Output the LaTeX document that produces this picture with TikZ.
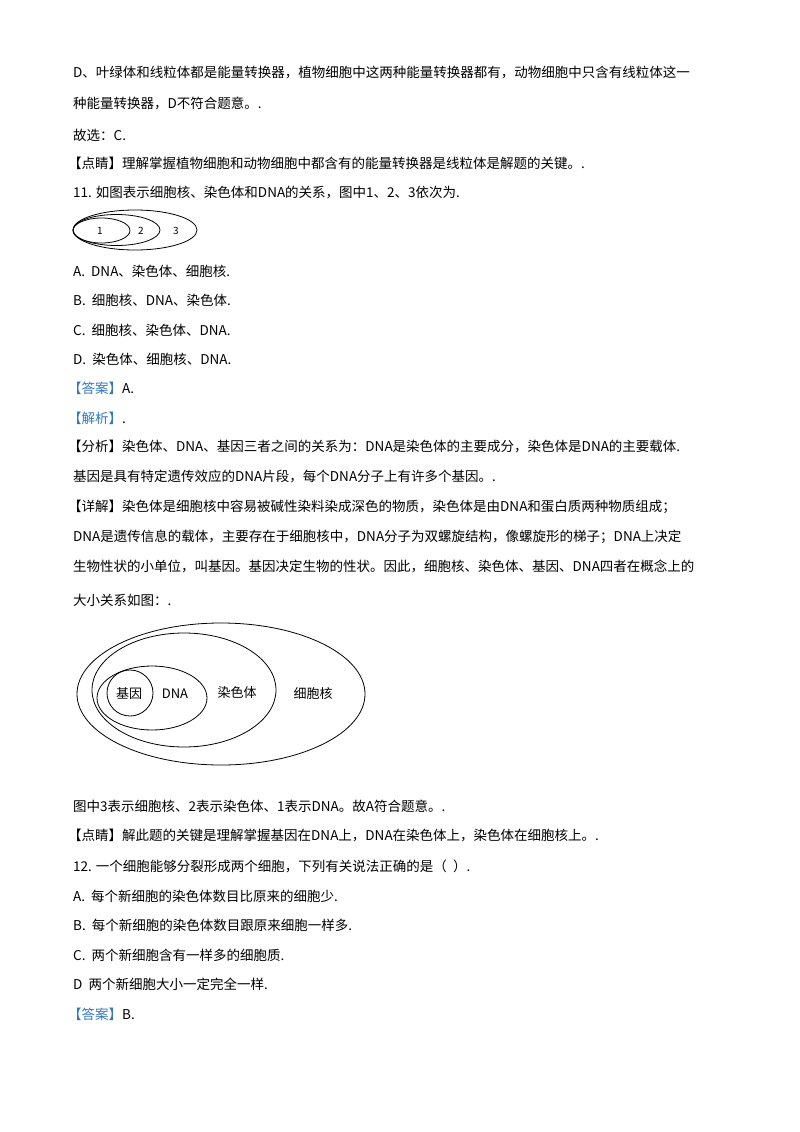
\documentclass[tikz,border=0pt]{standalone}
\usepackage{fontspec}
\setmainfont{Noto Sans CJK SC}
\definecolor{tagblue}{RGB}{50,120,190}
\begin{document}
\begin{tikzpicture}[x=1pt,y=-1pt,
  ln/.style={anchor=west,inner sep=0pt,font=\fontsize{13.5}{14}\selectfont},
  lb/.style={inner sep=0pt,font=\fontsize{13}{14}\selectfont},
  sl/.style={inner sep=0pt,font=\fontsize{10}{11}\selectfont},
  ring/.style={draw,line width=0.8pt}]
\useasboundingbox[fill=white] (0,0) rectangle (800,1132);
\node[ln] (l1) at (73,73) {D、叶绿体和线粒体都是能量转换器，植物细胞中这两种能量转换器都有，动物细胞中只含有线粒体这一};
\node[ln] (l2) at (73,103) {种能量转换器，D不符合题意。.};
\node[ln] (l3) at (73,135) {故选：C.};
\node[ln] (l4) at (68,163) {【点睛】理解掌握植物细胞和动物细胞中都含有的能量转换器是线粒体是解题的关键。.};
\node[ln] (l5) at (73,193) {11. 如图表示细胞核、染色体和DNA的关系，图中1、2、3依次为.};
% small diagram
\draw[ring] (135,230) ellipse [x radius=62,y radius=20];
\draw[ring] (116.5,230) ellipse [x radius=43.5,y radius=15.5];
\draw[ring] (101.5,230.5) ellipse [x radius=28.5,y radius=12.5];
\node[sl] (s1) at (100,231) {1};
\node[sl] (s2) at (141,231) {2};
\node[sl] (s3) at (176,231) {3};
\node[ln] (l6) at (73,271) {A.\ \ DNA、染色体、细胞核.};
\node[ln] (l7) at (73,300) {B.\ \ 细胞核、DNA、染色体.};
\node[ln] (l8) at (73,330) {C.\ \ 细胞核、染色体、DNA.};
\node[ln] (l9) at (73,359) {D.\ \ 染色体、细胞核、DNA.};
\node[ln] (l10) at (68,388) {\textcolor{tagblue}{【答案】}A.};
\node[ln] (l11) at (68,418) {\textcolor{tagblue}{【解析】}.};
\node[ln] (l12) at (68,447) {【分析】染色体、DNA、基因三者之间的关系为：DNA是染色体的主要成分，染色体是DNA的主要载体.};
\node[ln] (l13) at (73,476) {基因是具有特定遗传效应的DNA片段，每个DNA分子上有许多个基因。.};
\node[ln] (l14) at (68,507) {【详解】染色体是细胞核中容易被碱性染料染成深色的物质，染色体是由DNA和蛋白质两种物质组成；};
\node[ln] (l15) at (73,537) {DNA是遗传信息的载体，主要存在于细胞核中，DNA分子为双螺旋结构，像螺旋形的梯子；DNA上决定};
\node[ln] (l16) at (73,566) {生物性状的小单位，叫基因。基因决定生物的性状。因此，细胞核、染色体、基因、DNA四者在概念上的};
\node[ln] (l17) at (73,600) {大小关系如图：.};
% big diagram
\draw[ring] (221,694) ellipse [x radius=144,y radius=71];
\draw[ring] (184,690) ellipse [x radius=92,y radius=57];
\draw[ring] (152,698) ellipse [x radius=55,y radius=32];
\draw[ring] (130,693) circle [radius=23];
\node[lb] (g1) at (129,694) {基因};
\node[lb] (g2) at (175,694) {DNA};
\node[lb] (g3) at (237,693) {染色体};
\node[lb] (g4) at (313,694) {细胞核};
\node[ln] (l18) at (73,806) {图中3表示细胞核、2表示染色体、1表示DNA。故A符合题意。.};
\node[ln] (l19) at (68,836) {【点睛】解此题的关键是理解掌握基因在DNA上，DNA在染色体上，染色体在细胞核上。.};
\node[ln] (l20) at (73,866) {12. 一个细胞能够分裂形成两个细胞，下列有关说法正确的是（\ \ ）.};
\node[ln] (l21) at (73,896) {A.\ \ 每个新细胞的染色体数目比原来的细胞少.};
\node[ln] (l22) at (73,925) {B.\ \ 每个新细胞的染色体数目跟原来细胞一样多.};
\node[ln] (l23) at (73,955) {C.\ \ 两个新细胞含有一样多的细胞质.};
\node[ln] (l24) at (73,984) {D\ \ 两个新细胞大小一定完全一样.};
\node[ln] (l25) at (68,1014) {\textcolor{tagblue}{【答案】}B.};
\end{tikzpicture}
\end{document}
